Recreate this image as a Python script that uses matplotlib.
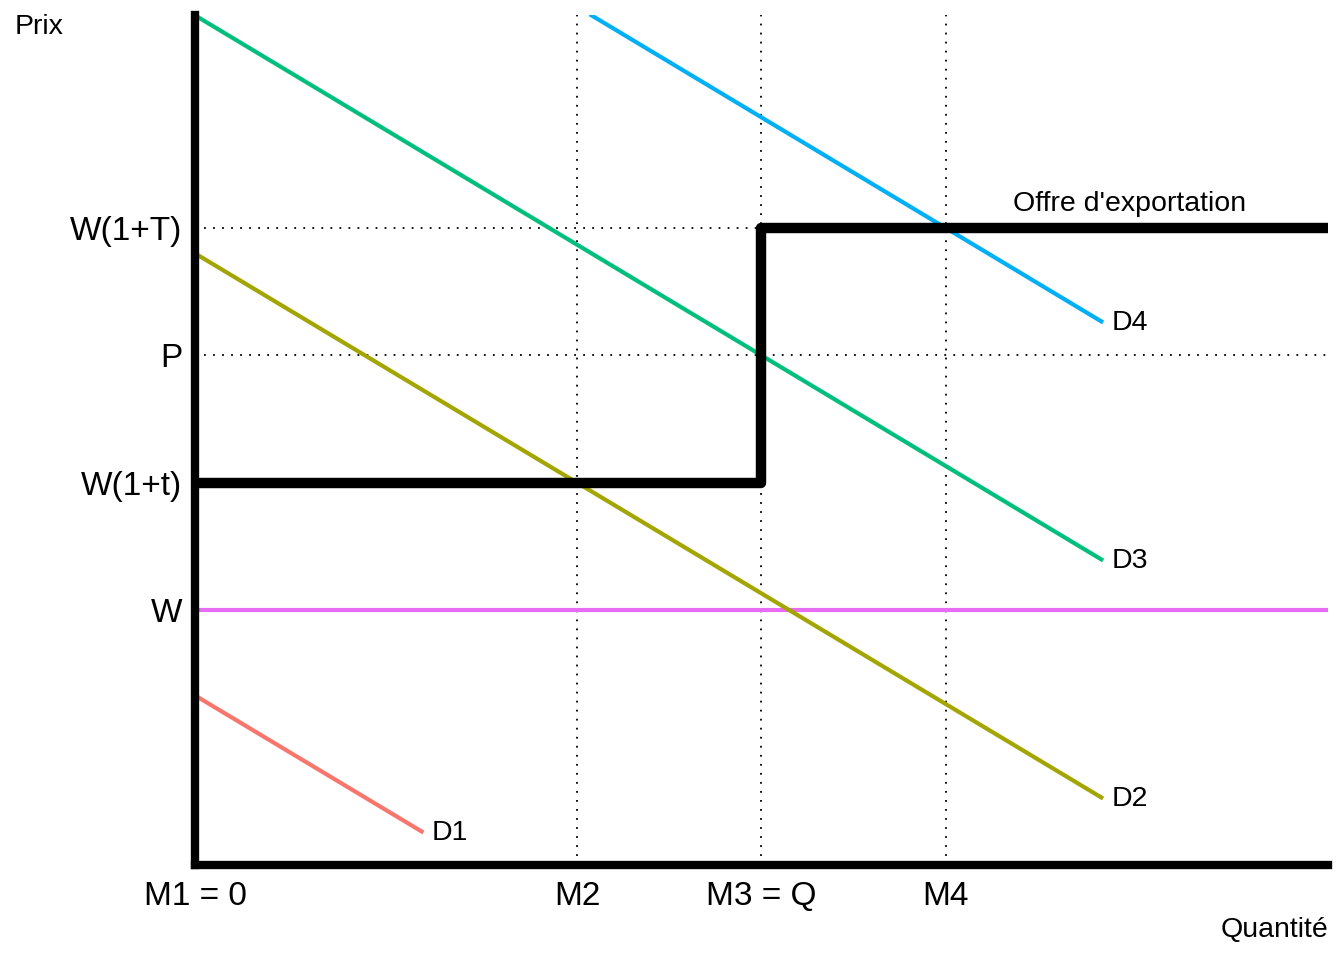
import matplotlib.pyplot as plt
import numpy as np

plt.rcParams['font.family'] = ['Liberation Sans', 'DejaVu Sans']

# demand curves: y = intercept - slope * x, drawn on [x_start, x_end]
demand_names = ['D1', 'D2', 'D3', 'D4']
demand_intercepts = [2.0, 7.2, 10.0, 12.8]
demand_slope = 0.8
demand_x_start = [0.0, 0.0, 0.0, 3.5]
demand_x_end = [2.0, 8.0, 8.0, 8.0]
demand_colors = ['#F8766D', '#A3A500', '#00BF7D', '#00B0F6']

# world price and export supply (step)
w_price = 3.0
w_color = '#E76BF3'
supply_x = [0, 5, 5, 10]
supply_y = [4.5, 4.5, 7.5, 7.5]

# ticks
x_ticks = [0, 3.375, 5, 6.625]
x_labels = ['M1 = 0', 'M2', 'M3 = Q', 'M4']
y_ticks = [3.0, 4.5, 6.0, 7.5]
y_labels = ['W', 'W(1+t)', 'P', 'W(1+T)']

fig = plt.figure(figsize=(13.44, 9.6), dpi=100)
ax = fig.add_axes([0.1451, 0.0985, 0.8429, 0.8855])

# dotted guides
for xv in x_ticks[1:]:
    ax.plot([xv, xv], [0, 10], color='black', linestyle=(0, (1, 4)), lw=1.3)
for yv in [6.0, 7.5]:
    ax.plot([0, 10], [yv, yv], color='black', linestyle=(0, (1, 4)), lw=1.3)

ax.plot([0, 10], [w_price, w_price], color=w_color, lw=3)

for name, b, x0, x1, c in zip(demand_names, demand_intercepts, demand_x_start,
                              demand_x_end, demand_colors):
    xs = np.array([x0, x1])
    ys = b - demand_slope * xs
    ax.plot(xs, ys, color=c, lw=3)
    ax.text(x1 + 0.09, ys[-1] - 0.02, name, ha='left', va='center', fontsize=20.5)

ax.plot(supply_x, supply_y, color='black', lw=7.5, solid_joinstyle='round',
        solid_capstyle='butt')
ax.text(8.25, 7.78, "Offre d'exportation", ha='center', va='center', fontsize=20.5)

ax.set_xlim(0, 10)
ax.set_ylim(0, 10)
ax.set_xticks(x_ticks)
ax.set_xticklabels(x_labels, fontsize=24)
ax.set_yticks(y_ticks)
ax.set_yticklabels(y_labels, fontsize=24)
ax.tick_params(axis='y', length=0, pad=9)
ax.tick_params(axis='x', length=0, pad=11)

for s in ['top', 'right']:
    ax.spines[s].set_visible(False)
for s in ['left', 'bottom']:
    ax.spines[s].set_linewidth(6)
    ax.spines[s].set_capstyle('projecting')

fig.text(15 / 1344, 1 - 27 / 960, 'Prix', ha='left', va='center', fontsize=20.5)
fig.text(1328 / 1344, 1 - 930 / 960, 'Quantité', ha='right', va='center', fontsize=20.5)

fig.savefig('out.png', dpi=100)
